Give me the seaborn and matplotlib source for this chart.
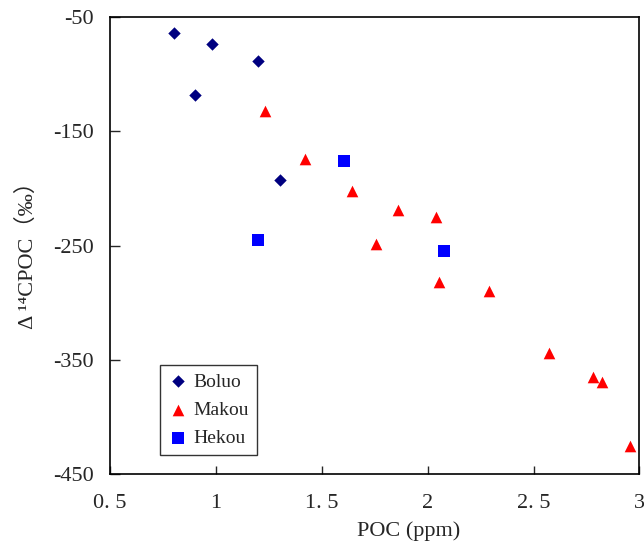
import pandas as pd
import seaborn as sns
import matplotlib.pyplot as plt

# %% Dados
boluo_poc = [0.80, 0.98, 1.20, 0.90, 1.30]
boluo_c14 = [-64, -74, -89, -118, -193]

makou_poc = [1.23, 1.42, 1.64, 1.86, 2.04, 1.755, 2.055, 2.29, 2.575, 2.78, 2.825, 2.955]
makou_c14 = [-132, -174, -202, -219, -225, -249, -282, -290, -344, -365, -369, -425]

hekou_poc = [1.605, 1.20, 2.075]
hekou_c14 = [-176, -245, -255]

sites = ["Boluo", "Makou", "Hekou"]
x_ticks = [0.5, 1, 1.5, 2, 2.5, 3]
x_ticklabels = ["0. 5", "1", "1. 5", "2", "2. 5", "3"]
y_ticks = [-50, -150, -250, -350, -450]

df = pd.concat([
    pd.DataFrame({"poc": boluo_poc, "c14": boluo_c14, "site": "Boluo"}),
    pd.DataFrame({"poc": makou_poc, "c14": makou_c14, "site": "Makou"}),
    pd.DataFrame({"poc": hekou_poc, "c14": hekou_c14, "site": "Hekou"}),
], ignore_index=True)

# %% Estilo
sns.set_theme(style="ticks")
plt.rcParams['font.family'] = ['Liberation Serif', 'Noto Sans CJK SC', 'DejaVu Sans']
plt.rcParams['axes.unicode_minus'] = False

fig = plt.figure(figsize=(6.44, 5.45), dpi=100)
ax = fig.add_axes([0.171, 0.130, 0.822, 0.839])

palette = {"Boluo": "#000080", "Makou": "#ff0000", "Hekou": "#0000ff"}
markers = {"Boluo": "D", "Makou": "^", "Hekou": "s"}
sizes = {"Boluo": 40, "Makou": 70, "Hekou": 70}

for s in sites:
    sub = df[df["site"] == s]
    sns.scatterplot(data=sub, x="poc", y="c14", color=palette[s], marker=markers[s],
                    s=sizes[s], linewidth=0, ax=ax, label=s)

ax.set_xlim(0.5, 3)
ax.set_ylim(-450, -50)
ax.set_xticks(x_ticks)
ax.set_xticklabels(x_ticklabels)
ax.set_yticks(y_ticks)
ax.tick_params(axis="x", direction="in", length=6, labelsize=16, pad=14, width=1)
ax.tick_params(axis="y", direction="in", length=7, labelsize=16, pad=12, width=1)
for sp in ax.spines.values():
    sp.set_linewidth(1.2)
    sp.set_color("black")

ax.set_xlabel("POC (ppm)", fontsize=16)
ax.xaxis.set_label_coords(0.563, -0.103)
ax.set_ylabel("Δ ¹⁴CPOC（‰）", fontsize=16)
ax.yaxis.set_label_coords(-0.136, 0.49)

leg = ax.legend(loc="lower left", bbox_to_anchor=(0.095, 0.042), fontsize=14,
                frameon=True, fancybox=False, edgecolor="black", handletextpad=0.3,
                borderpad=0.4, labelspacing=0.55, handlelength=1.0, borderaxespad=0)
leg.get_frame().set_linewidth(1.0)

fig.savefig("out.png", dpi=100)
